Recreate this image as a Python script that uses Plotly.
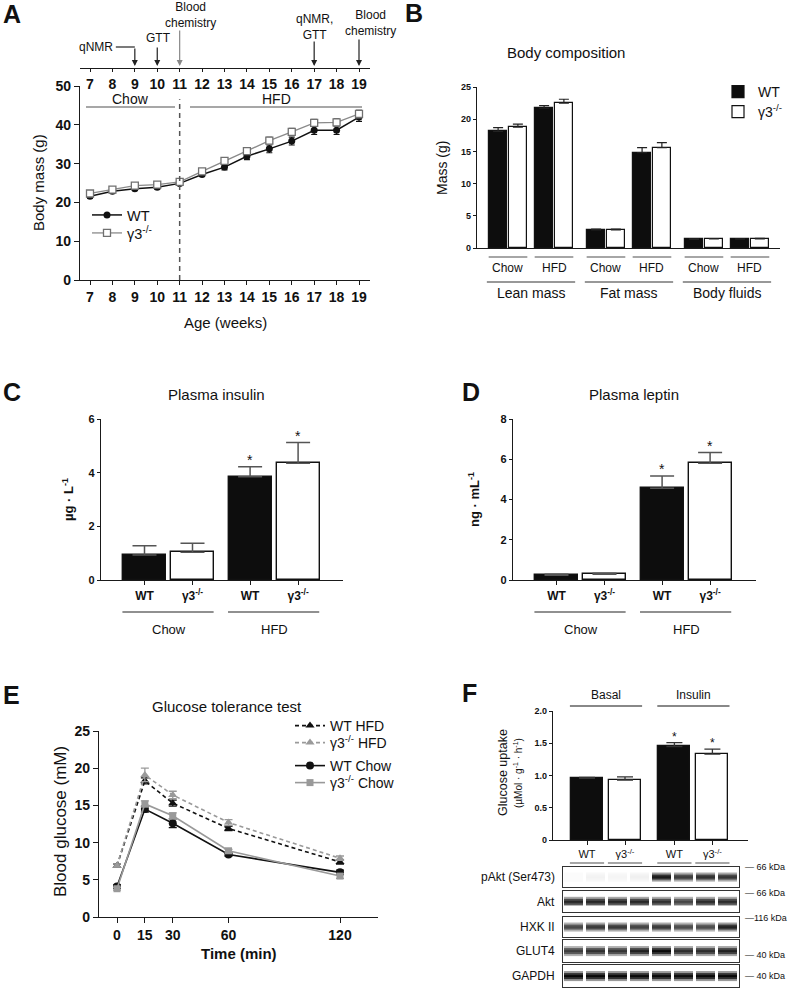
import plotly.graph_objects as go

W, H = 789, 988
FONT = "Liberation Sans, Arial, Helvetica, sans-serif"
AX = "#1a1a1a"

# ---------------- data ----------------
# Panel A: body mass by age
age_weeks = [7, 8, 9, 10, 11, 12, 13, 14, 15, 16, 17, 18, 19]
mass_wt = [21.6, 22.9, 23.5, 23.9, 24.9, 27.2, 29.1, 31.9, 33.8, 35.8, 38.6, 38.6, 42.0]
mass_wt_err = [0.5, 0.4, 0.4, 0.5, 0.5, 0.5, 0.7, 0.9, 1.0, 1.0, 1.1, 1.1, 1.1]
mass_g3 = [22.3, 23.3, 24.3, 24.6, 25.3, 28.0, 30.7, 33.2, 35.9, 38.2, 40.5, 40.6, 42.8]
mass_g3_err = [0.4, 0.4, 0.5, 0.5, 0.5, 0.5, 0.6, 0.8, 0.9, 0.9, 0.9, 1.0, 1.0]
mass_yticks = [0, 10, 20, 30, 40, 50]

# Panel B: body composition
comp_tissues = ["Lean mass", "Fat mass", "Body fluids"]
comp_diets = ["Chow", "HFD"]
comp_wt = [18.1, 21.7, 2.8, 14.8, 1.35, 1.38]
comp_wt_err = [0.6, 0.4, 0.15, 0.8, 0.06, 0.06]
comp_g3 = [18.75, 22.5, 2.8, 15.6, 1.4, 1.42]
comp_g3_err = [0.5, 0.6, 0.12, 0.75, 0.05, 0.06]
comp_yticks = [0, 5, 10, 15, 20, 25]

# Panels C, D
geno_labels = ["<b>WT</b>", "<b>γ3<sup>-/-</sup></b>", "<b>WT</b>", "<b>γ3<sup>-/-</sup></b>"]
diet_groups = ["Chow", "HFD"]
insulin = [0.93, 1.03, 3.85, 4.35]
insulin_err = [0.35, 0.34, 0.37, 0.77]
leptin = [0.23, 0.28, 4.56, 5.8]
leptin_err = [0.06, 0.05, 0.61, 0.53]
signif = [False, False, True, True]

# Panel E: GTT
gtt_time = [0, 15, 30, 60, 120]
gtt_wt_hfd = [6.9, 18.3, 15.3, 11.9, 7.4]
gtt_wt_hfd_err = [0.2, 0.4, 0.4, 0.3, 0.3]
gtt_g3_hfd = [6.9, 19.1, 16.4, 12.7, 7.9]
gtt_g3_hfd_err = [0.2, 0.9, 0.5, 0.4, 0.3]
gtt_wt_chow = [4.1, 14.5, 12.6, 8.4, 6.0]
gtt_wt_chow_err = [0.2, 0.4, 0.6, 0.2, 0.3]
gtt_g3_chow = [3.8, 15.2, 13.6, 8.9, 5.5]
gtt_g3_chow_err = [0.2, 0.4, 0.4, 0.2, 0.3]

# Panel F: glucose uptake
uptake_labels = ["WT", "γ3<sup>-/-</sup>", "WT", "γ3<sup>-/-</sup>"]
uptake_conditions = ["Basal", "Insulin"]
uptake = [0.955, 0.93, 1.45, 1.33]
uptake_err = [0.015, 0.05, 0.06, 0.08]
uptake_sig = [False, False, True, True]

# Western blot band intensities (8 lanes)
blot_proteins = ["pAkt (Ser473)", "Akt", "HXK II", "GLUT4", "GAPDH"]
blot_markers = ["— 66 kDa", "— 66 kDa", "—116 kDa", "— 40 kDa", "— 40 kDa"]
blot_intensity = [
    [0.0, 0.03, 0.02, 0.04, 0.97, 0.78, 0.85, 0.82],
    [0.82, 0.82, 0.82, 0.82, 0.78, 0.68, 0.8, 0.8],
    [0.72, 0.8, 0.8, 0.75, 0.8, 0.7, 0.7, 0.92],
    [0.72, 0.78, 0.76, 0.86, 0.97, 0.8, 0.8, 0.86],
    [0.98, 0.97, 0.97, 0.97, 0.96, 0.95, 0.97, 0.97],
]

# ---------------- layout helpers (style) ----------------
def xd(a, b):
    return [a / W, b / W]

def yd(top, bottom):
    return [1 - bottom / H, 1 - top / H]

def px(x):
    return x / W

def py(y):
    return 1 - y / H

annotations = []
shapes = []

def ann(text, x, y, size=12, bold=False, xref="paper", yref="paper", xanchor="center",
        yanchor="middle", angle=0, color="#111", yshift=0):
    annotations.append(dict(
        text=text, x=x, y=y, xref=xref, yref=yref, xanchor=xanchor, yanchor=yanchor,
        showarrow=False, textangle=angle, yshift=yshift,
        font=dict(family=FONT, size=size, color=color, weight="bold" if bold else "normal")))

def hline(x0, x1, y, xref="paper", color="#888", width=1.5):
    shapes.append(dict(type="line", x0=x0, x1=x1, y0=y, y1=y, xref=xref, yref="paper",
                       line=dict(color=color, width=width)))

def axis(domain, rng, **kw):
    d = dict(range=rng, showgrid=False, zeroline=False, showline=True,
             linecolor=AX, linewidth=1.4, ticks="outside", ticklen=4, tickwidth=1.2,
             tickcolor=AX, fixedrange=True, automargin=False)
    if domain is not None:
        d["domain"] = domain
    d.update(kw)
    return d

def tf(size, bold=True):
    return dict(family=FONT, size=size, color="#111", weight="bold" if bold else "normal")

fig = go.Figure()
layout = dict(width=W, height=H, margin=dict(l=0, r=0, t=0, b=0, pad=0, autoexpand=False),
              paper_bgcolor="white", plot_bgcolor="rgba(0,0,0,0)",
              font=dict(family=FONT, color="#111"), bargap=0, showlegend=True)

# ================= Panel A =================
A_x0, A_unit = 90, (359 - 90) / 12
a_rng = [7 + (80 - A_x0) / A_unit, 7 + (370 - A_x0) / A_unit]
layout["xaxis"] = axis(xd(80, 370), a_rng, anchor="y", tickvals=age_weeks,
                       ticklen=4, tickfont=tf(14))
layout["yaxis"] = axis(yd(86, 280), [0, 50], anchor="x", tickvals=mass_yticks,
                       ticklen=5, tickfont=tf(14))
layout["xaxis2"] = axis(None, a_rng, overlaying="x", anchor="free", position=py(68),
                        side="bottom", tickvals=age_weeks, ticklen=3, tickfont=tf(14))
fig.add_trace(go.Scatter(x=age_weeks, y=[None] * len(age_weeks), xaxis="x2", yaxis="y",
                         showlegend=False, hoverinfo="skip", mode="markers"))

fig.add_trace(go.Scatter(
    x=age_weeks, y=mass_wt, mode="lines+markers", name="WT", legend="legend",
    line=dict(color="#111", width=1.5), marker=dict(symbol="circle", size=7, color="#111"),
    error_y=dict(type="data", array=mass_wt_err, color="#111", thickness=1.2, width=3),
    xaxis="x", yaxis="y"))
fig.add_trace(go.Scatter(
    x=age_weeks, y=mass_g3, mode="lines+markers", name="γ3<sup>-/-</sup>", legend="legend2",
    line=dict(color="#8a8a8a", width=1.3),
    marker=dict(symbol="square", size=7, color="white", line=dict(color="#707070", width=1.3)),
    error_y=dict(type="data", array=mass_g3_err, color="#707070", thickness=1.2, width=3),
    xaxis="x", yaxis="y"))

# diet switch line
shapes.append(dict(type="line", xref="x", yref="y", x0=11, x1=11, y0=0, y1=46.6,
                   line=dict(color="#555", width=1.5, dash="5px,4px")))
hline(px(86), px(175), py(107), color="#8a8a8a", width=1.5)
hline(px(190), px(362), py(107), color="#8a8a8a", width=1.5)
ann("Chow", px(130), py(99), size=14)
ann("HFD", px(276), py(99), size=14)
ann("Body mass (g)", px(38), py(183), size=15, angle=-90)
ann("Age (weeks)", px(225), py(322), size=15)
ann("A", px(12), py(14), size=25, bold=True)

# timeline events
events = [
    (9, 47, "#222"),
    (10, 46, "#222"),
    (11, 29, "#888"),
    (17, 40, "#222"),
    (19, 38, "#222"),
]
for wk, ytop, col in events:
    annotations.append(dict(x=wk, y=py(66), xref="x", yref="paper", text="", showarrow=True,
                            ax=0, ay=ytop - 66, arrowhead=2, arrowsize=1, arrowwidth=1.2,
                            arrowcolor=col))
shapes.append(dict(type="line", xref="x", yref="paper", x0=9 - (135 - 116) / A_unit, x1=9,
                   y0=py(47), y1=py(47), line=dict(color="#222", width=1.2)))
ann("qNMR", px(115), py(47), size=12, xanchor="right")
ann("GTT", px(158), py(38), size=12)
ann("Blood<br>chemistry", px(190), py(15), size=12)
ann("qNMR,<br>GTT", px(314), py(27), size=12)
ann("Blood<br>chemistry", px(370), py(23), size=12)

# ================= Panel B =================
comp_pos = [i + 0.13 * (i // 2) for i in range(6)]
B_unit = 46
b_rng = [(477 - 508) / B_unit, (780 - 508) / B_unit]
layout["xaxis3"] = axis(xd(477, 780), b_rng, anchor="y3", showticklabels=False, ticks="",
                        linewidth=1.2)
layout["yaxis3"] = axis(yd(87, 248), [0, 25], anchor="x3", tickvals=comp_yticks,
                        tickfont=tf(9), ticklen=3, linewidth=1.2)
fig.add_trace(go.Bar(x=comp_pos, y=comp_wt, width=0.39, offset=-0.41, name="WT",
                     legend="legend3", marker=dict(color="#0d0d0d", line=dict(color="#111", width=1.2)),
                     error_y=dict(type="data", array=comp_wt_err, arrayminus=[0] * 6,
                                  symmetric=False, color="#222", thickness=1.2, width=5),
                     xaxis="x3", yaxis="y3"))
fig.add_trace(go.Bar(x=comp_pos, y=comp_g3, width=0.39, offset=0.02, name="γ3<sup>-/-</sup>",
                     legend="legend4", marker=dict(color="white", line=dict(color="#111", width=1.2)),
                     error_y=dict(type="data", array=comp_g3_err, arrayminus=[0] * 6,
                                  symmetric=False, color="#222", thickness=1.2, width=5),
                     xaxis="x3", yaxis="y3"))
for i, p in enumerate(comp_pos):
    hline(p - 0.42, p + 0.42, py(257), xref="x3", color="#888", width=1.5)
    ann(comp_diets[i % 2], p, py(268), size=12, xref="x3")
for t, tissue in enumerate(comp_tissues):
    a, b = comp_pos[2 * t], comp_pos[2 * t + 1]
    hline(a - 0.46, b + 0.46, py(282), xref="x3", color="#333", width=1.2)
    ann(tissue, (a + b) / 2, py(293), size=14, xref="x3")
ann("Body composition", px(566), py(53), size=15)
ann("Mass (g)", px(442), py(168), size=14, angle=-90)
ann("B", px(414), py(13), size=25, bold=True)

# ================= Panels C & D =================
cd_pos = [0, 1, 2.2, 3.2]
CD_unit = 48
bar_colors = ["#0d0d0d", "white", "#0d0d0d", "white"]

def cd_panel(xa, xpx0, xpx1, first_center, yvals, yerr, ymax, yticks):
    rng = [(xpx0 - first_center) / CD_unit, (xpx1 - first_center) / CD_unit]
    layout["xaxis" + xa] = axis(xd(xpx0, xpx1), rng, anchor="y" + xa, tickvals=cd_pos,
                                ticktext=geno_labels, tickfont=tf(12), ticklen=4)
    layout["yaxis" + xa] = axis(yd(419, 580), [0, ymax], anchor="x" + xa, tickvals=yticks,
                                tickfont=tf(11), ticklen=3)
    fig.add_trace(go.Bar(x=cd_pos, y=yvals, width=0.9, showlegend=False,
                         marker=dict(color=bar_colors, line=dict(color="#111", width=1.4)),
                         error_y=dict(type="data", array=yerr, arrayminus=[0] * 4,
                                      symmetric=False, color="#555", thickness=1.5, width=12),
                         xaxis="x" + xa, yaxis="y" + xa))
    for p, v, e, s in zip(cd_pos, yvals, yerr, signif):
        if s:
            ann("*", p, v + e, size=14, xref="x" + xa, yref="y" + xa, yanchor="bottom", yshift=-3)
    for g in range(2):
        a, b = cd_pos[2 * g], cd_pos[2 * g + 1]
        hline(a - 0.46, b + 0.44, py(612), xref="x" + xa, color="#222", width=1.2)
        ann(diet_groups[g], (a + b) / 2, py(629), size=13, xref="x" + xa)

cd_panel("4", 101, 343, 144.5, insulin, insulin_err, 6, [0, 2, 4, 6])
cd_panel("5", 513, 756, 556.5, leptin, leptin_err, 8, [0, 2, 4, 6, 8])
ann("Plasma insulin", px(216), py(395), size=15)
ann("µg · L<sup>-1</sup>", px(68), py(500), size=13, bold=True, angle=-90)
ann("C", px(12), py(392), size=25, bold=True)
ann("Plasma leptin", px(634), py(395), size=15)
ann("ng · mL<sup>-1</sup>", px(474), py(500), size=13, bold=True, angle=-90)
ann("D", px(471), py(392), size=25, bold=True)

# ================= Panel E =================
E_unit = (340 - 117) / 120
e_rng = [(99 - 117) / E_unit, (378 - 117) / E_unit]
layout["xaxis6"] = axis(xd(99, 378), e_rng, anchor="y6", tickvals=gtt_time,
                        tickfont=tf(14), ticklen=5)
layout["yaxis6"] = axis(yd(731, 917), [0, 25], anchor="x6", tickvals=[0, 5, 10, 15, 20, 25],
                        tickfont=tf(14), ticklen=5)
gtt_series = [
    ("WT HFD", gtt_wt_hfd, gtt_wt_hfd_err, "#111", "4px,3px", "triangle-up", 8, "legend5"),
    ("γ3<sup>-/-</sup> HFD", gtt_g3_hfd, gtt_g3_hfd_err, "#9a9a9a", "4px,3px", "triangle-up", 8, "legend6"),
    ("WT Chow", gtt_wt_chow, gtt_wt_chow_err, "#111", "solid", "circle", 8, "legend7"),
    ("γ3<sup>-/-</sup> Chow", gtt_g3_chow, gtt_g3_chow_err, "#999999", "solid", "square", 7, "legend8"),
]
for name, yv, ye, col, dash, sym, ms, lg in gtt_series:
    fig.add_trace(go.Scatter(x=gtt_time, y=yv, mode="lines+markers", name=name, legend=lg,
                             line=dict(color=col, width=1.6, dash=dash),
                             marker=dict(symbol=sym, size=ms, color=col),
                             error_y=dict(type="data", array=ye, color=col, thickness=1.3, width=4),
                             xaxis="x6", yaxis="y6"))
ann("Glucose tolerance test", px(227), py(706), size=15)
ann("Time (min)", px(239), py(953), size=15, bold=True)
ann("Blood glucose (mM)", px(60), py(822), size=17, angle=-90)
ann("E", px(11), py(695), size=25, bold=True)

# ================= Panel F =================
f_pos = [0, 1, 2.3, 3.3]
F_unit = 38
f_rng = [(553 - 587) / F_unit, (748 - 587) / F_unit]
layout["xaxis7"] = axis(xd(553, 748), f_rng, anchor="y7", tickvals=f_pos, ticktext=uptake_labels,
                        tickfont=tf(11, bold=False), ticklen=4, linewidth=1.2)
layout["yaxis7"] = axis(yd(711, 840), [0, 2], anchor="x7", tickvals=[0, 0.5, 1, 1.5, 2],
                        ticktext=["0", "0.5", "1.0", "1.5", "2.0"], tickfont=tf(9), ticklen=3,
                        linewidth=1.2)
fig.add_trace(go.Bar(x=f_pos, y=uptake, width=0.84, showlegend=False,
                     marker=dict(color=bar_colors, line=dict(color="#111", width=1.3)),
                     error_y=dict(type="data", array=uptake_err, arrayminus=[0] * 4,
                                  symmetric=False, color="#333", thickness=1.3, width=8),
                     xaxis="x7", yaxis="y7"))
for p, v, e, s in zip(f_pos, uptake, uptake_err, uptake_sig):
    if s:
        ann("*", p, v + e, size=12, xref="x7", yref="y7", yanchor="bottom", yshift=-3)
for p in f_pos:
    hline(p - 0.45, p + 0.45, py(863), xref="x7", color="#888", width=1.5)
for g in range(2):
    a, b = f_pos[2 * g], f_pos[2 * g + 1]
    hline(a - 0.45, b + 0.45, py(706), xref="x7", color="#888", width=2)
    ann(uptake_conditions[g], (a + b) / 2, py(695), size=12, xref="x7")
ann("Glucose uptake", px(503), py(773), size=12.5, angle=-90)
ann("(µMol · g<sup>-1</sup> · h<sup>-1</sup>)", px(518), py(773), size=10, angle=-90)
ann("F", px(470), py(693), size=25, bold=True)

# Western blot rows
BAND_PROFILE = [0.35, 0.8, 1.0, 0.8, 0.35]
blot_rows_px = [(867, 887), (891, 912), (917, 937), (940, 962), (965, 987)]
blot_marker_y = [867, 893, 918, 955, 976]
blot_gray = [[0, "#fbfbfb"], [0.5, "#6a6a6a"], [1, "#030303"]]
for r, (prot, inten) in enumerate(zip(blot_proteins, blot_intensity)):
    n = str(8 + r)
    top, bot = blot_rows_px[r]
    z = [[p * v for v in inten] for p in BAND_PROFILE]
    layout["xaxis" + n] = dict(domain=xd(563, 739), range=[-0.5, 7.5], anchor="y" + n,
                               showline=True, mirror=True, linecolor="#333", linewidth=1.3,
                               showticklabels=False, ticks="", showgrid=False, zeroline=False,
                               fixedrange=True, automargin=False)
    layout["yaxis" + n] = dict(domain=yd(top, bot), range=[2 - 5.6, 2 + 5.6], anchor="x" + n,
                               showline=True, mirror=True, linecolor="#333", linewidth=1.3,
                               showticklabels=False, ticks="", showgrid=False, zeroline=False,
                               fixedrange=True, automargin=False)
    fig.add_trace(go.Heatmap(z=z, x=list(range(8)), y=list(range(len(BAND_PROFILE))),
                             colorscale=blot_gray, zmin=0, zmax=1, showscale=False, xgap=3,
                             hoverinfo="skip", xaxis="x" + n, yaxis="y" + n))
    ann(prot, px(557), py((top + bot) / 2), size=12, xanchor="right")
    ann(blot_markers[r], px(743), py(blot_marker_y[r]), size=9, xanchor="left")

# ================= legends =================
def leg(xl, yc, size):
    return dict(x=px(xl), y=py(yc), xanchor="left", yanchor="middle", bgcolor="rgba(0,0,0,0)",
                borderwidth=0, font=dict(family=FONT, size=size, color="#111"),
                itemwidth=30, tracegroupgap=0)

layout["legend"] = leg(87, 215, 14.5)
layout["legend2"] = leg(87, 233, 14.5)
layout["legend3"] = leg(718, 92, 14)
layout["legend4"] = leg(718, 112, 14)
layout["legend5"] = leg(290, 726, 14)
layout["legend6"] = leg(290, 743, 14)
layout["legend7"] = leg(290, 766, 14)
layout["legend8"] = leg(290, 783, 14)

layout["annotations"] = annotations
layout["shapes"] = shapes
fig.update_layout(**layout)
fig.write_html("out.html", config={"displayModeBar": False},
               post_script=("document.body.style.margin='0';document.body.style.padding='0';"
                            "document.body.style.overflow='hidden';"))
